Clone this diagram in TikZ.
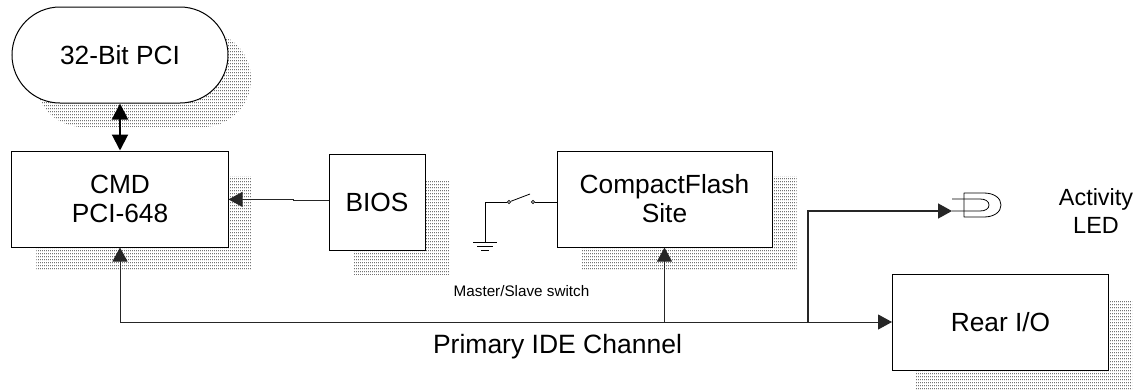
\documentclass[tikz,border=0pt]{standalone}
\usepackage{fontspec}
\setmainfont{Liberation Sans}
\usetikzlibrary{arrows.meta,patterns,calc}
\pgfdeclarepatternformonly{shdots}{\pgfqpoint{0bp}{0bp}}{\pgfqpoint{2bp}{3bp}}{\pgfqpoint{2bp}{3bp}}{%
  \pgfpathrectangle{\pgfqpoint{0bp}{1bp}}{\pgfqpoint{1.2bp}{1bp}}\pgfusepath{fill}}
\tikzset{
  blockbox/.style={draw=black,fill=white,line width=1bp,inner sep=0pt,align=center,
    font=\fontsize{26.4}{29}\selectfont},
  shadowbox/.style={pattern=shdots,pattern color=black!85,draw=none,inner sep=0pt},
  wire/.style={draw=black!85,line width=1bp},
  tipped/.style={wire,-{Triangle[length=14bp,width=15bp]}},
  thinwire/.style={draw=black,line width=0.8bp},
  bigtxt/.style={font=\fontsize{26.6}{29}\selectfont,inner sep=0pt,align=center},
  smalltxt/.style={font=\fontsize{15.3}{18}\selectfont,inner sep=0pt},
  contact/.style={circle,draw=black,fill=white,line width=0.7bp,minimum size=3.4bp,inner sep=0pt},
}
\begin{document}
\begin{tikzpicture}[x=1bp,y=-1bp]
\useasboundingbox (0,0) rectangle (1136,389);
\clip (0,0) rectangle (1136,389);
% shadows
\node[shadowbox,rounded corners=48bp,minimum width=216bp,minimum height=96bp] (pillS) at (143,79) {};
\node[shadowbox,minimum width=215bp,minimum height=94bp] (cmdS) at (144,223.5) {};
\node[shadowbox,minimum width=96bp,minimum height=94bp] (biosS) at (401.5,227) {};
\node[shadowbox,minimum width=215bp,minimum height=94bp] (cfS) at (689,223.5) {};
\node[shadowbox,minimum width=216bp,minimum height=94bp] (rearS) at (1024,347) {};
% blocks
\node[blockbox,rounded corners=48bp,minimum width=216bp,minimum height=96bp] (pci) at (120,55) {32-Bit PCI};
\node[blockbox,minimum width=216bp,minimum height=96bp] (cmd) at (120,199) {CMD\\PCI-648};
\node[blockbox,minimum width=96bp,minimum height=96bp] (bios) at (377,202) {BIOS};
\node[blockbox,minimum width=215bp,minimum height=96bp] (cf) at (664.5,199) {CompactFlash\\Site};
\node[blockbox,minimum width=216bp,minimum height=96bp] (rear) at (1000.5,322) {Rear I/O};
% connectors
\draw[line width=2bp,{Triangle[length=16bp,width=16bp]}-{Triangle[length=16bp,width=16bp]}] (pci.south) -- (cmd.north -| pci.south);
\coordinate (biosOut) at (329,200.4);
\coordinate (jogA) at (293,200.4);
\coordinate (jogB) at (293,199.4);
\draw[tipped] (biosOut) -- (jogA) -- (jogB) -- (cmd.east |- jogB);
\coordinate (busL) at (cmd.south |- 0,322);
\coordinate (busJ) at (808,322);
\coordinate (ledIn) at (952,211);
\draw[tipped] (busJ) -- (busL) -- (cmd.south);
\draw[tipped] (busL -| cf.south) -- (cf.south);
\draw[tipped] (busJ) -- (rear.west);
\draw[tipped,line width=1.5bp] (busJ) -- (busJ |- ledIn) -- (ledIn);
% LED
\coordinate (ledA) at (964,193);
\coordinate (ledB) at (964,217);
\coordinate (ledC) at (952,199);
\draw[thinwire,line join=round] (ledA) -- (984,193) .. controls (994,193) and (1001,198) .. (1001,205)
  .. controls (1001,212) and (994,217) .. (984,217) -- (ledB) -- cycle;
\draw[thinwire] (ledC) -- (980,199) .. controls (985,199) and (989,201) .. (989,205)
  .. controls (989,209) and (985,211) .. (980,211) -- (ledIn);
% switch
\node[contact] (swA) at (509,202) {};
\node[contact] (swB) at (533,202) {};
\coordinate (gndTop) at (485,202);
\coordinate (gndBase) at (485,242);
\coordinate (bladeEnd) at (530,194);
\draw[thinwire] (swA.west) -- (gndTop) -- (gndBase);
\draw[thinwire] (swB.east) -- (swB.east -| cf.west);
\draw[thinwire] (swA) -- (bladeEnd);
\draw[thinwire] ($(gndBase)+(-12,0)$) -- ($(gndBase)+(12,0)$);
\draw[thinwire] ($(gndBase)+(-8,4)$) -- ($(gndBase)+(8,4)$);
\draw[thinwire] ($(gndBase)+(-4,8)$) -- ($(gndBase)+(4,8)$);
% labels
\node[smalltxt] (msw) at (521.5,291) {Master/Slave switch};
\node[bigtxt] (ide) at (557.5,347) {Primary IDE Channel};
\node[bigtxt,font=\fontsize{23.5}{29}\selectfont] (act) at (1096,211) {Activity\\LED};
\end{tikzpicture}
\end{document}
